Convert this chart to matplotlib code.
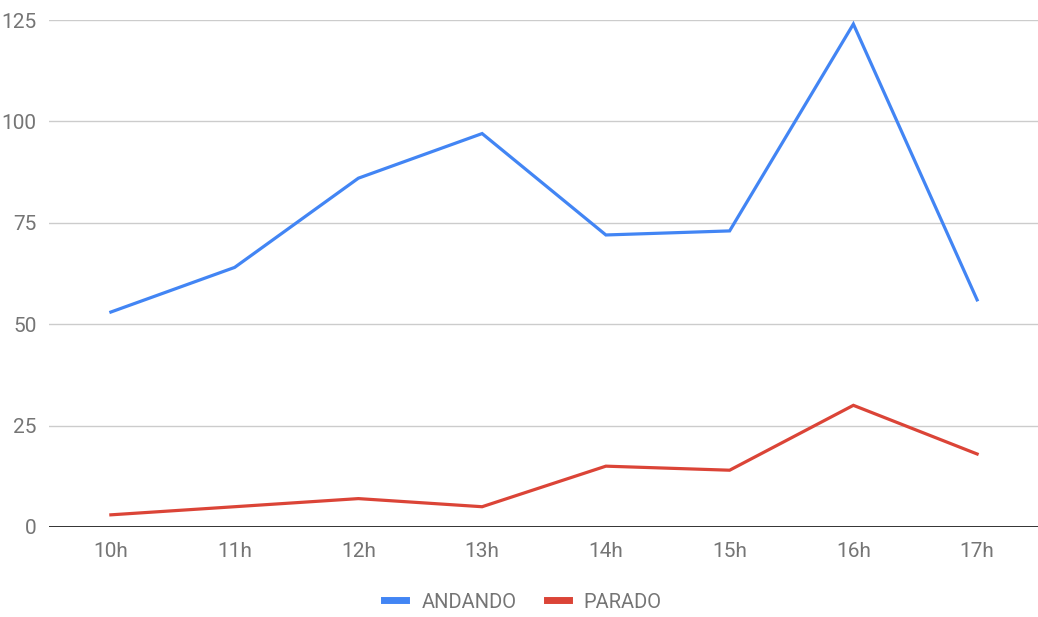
import matplotlib.pyplot as plt
from matplotlib.lines import Line2D

plt.rcParams["font.family"] = ["Roboto", "DejaVu Sans"]

# hourly counts
hours = ["10h", "11h", "12h", "13h", "14h", "15h", "16h", "17h"]
andando = [53, 64, 86, 97, 72, 73, 124, 56]
parado = [3, 5, 7, 5, 15, 14, 30, 18]
y_ticks = [0, 25, 50, 75, 100, 125]

BLUE = "#4285F4"
RED = "#DB4437"
TEXT = "#757575"

fig = plt.figure(figsize=(10.38, 6.17), dpi=100)
ax = fig.add_axes([49 / 1038, (617 - 527) / 617, 990 / 1038, 507 / 617])

x = range(len(hours))
ax.plot(x, andando, color=BLUE, linewidth=2.3, solid_joinstyle="miter",
        clip_on=False, zorder=3)
ax.plot(x, parado, color=RED, linewidth=2.3, solid_joinstyle="miter",
        clip_on=False, zorder=3)

ax.set_xlim(-0.5, len(hours) - 0.5)
ax.set_ylim(0, 125)
ax.set_xticks(list(x))
ax.set_xticklabels(hours)
ax.set_yticks(y_ticks)

for s in ax.spines.values():
    s.set_visible(False)
ax.grid(axis="y", color="#cccccc", linewidth=1.0)
ax.set_axisbelow(True)
ax.axhline(0, color="#333333", linewidth=1.4, zorder=2)

ax.tick_params(axis="both", length=0, labelsize=15, labelcolor=TEXT)
ax.tick_params(axis="x", pad=11)
ax.tick_params(axis="y", pad=9)

handles = [Line2D([], [], color=BLUE, linewidth=5),
           Line2D([], [], color=RED, linewidth=5)]
fig.legend(handles, ["ANDANDO", "PARADO"], loc="center",
           bbox_to_anchor=(523 / 1038, 1 - 602 / 617), ncol=2, frameon=False,
           fontsize=14.5, labelcolor=TEXT, handlelength=1.1, handletextpad=0.75,
           columnspacing=1.5)

fig.savefig("out.png", dpi=100)
